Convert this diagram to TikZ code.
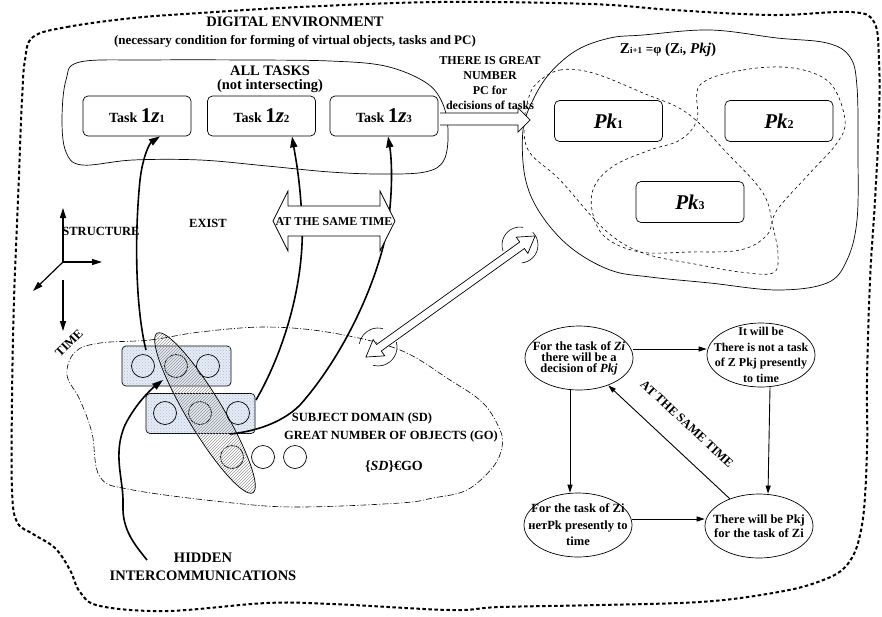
\documentclass[tikz,border=0pt]{standalone}
\usepackage{fontspec}
\setmainfont{Liberation Serif}
\usetikzlibrary{shapes.geometric,arrows.meta,patterns}

\newcommand{\fsz}[1]{\fontsize{#1}{#1}\selectfont}
\newcommand{\tasknum}[1]{{\fsz{21}1\textit{z}}{\fsz{11}#1}}
\newcommand{\pklab}[1]{{\fsz{21}\textit{Pk}}{\fsz{12}#1}}

\tikzset{
  every node/.style={font=\bfseries, inner sep=0pt},
  taskbox/.style={draw, rounded corners=5pt, minimum width=108pt, minimum height=40pt, line width=0.7pt, font=\bfseries\fsz{14}},
  pkbox/.style={draw, rounded corners=5pt, minimum width=108pt, minimum height=41pt, line width=0.7pt},
  stateell/.style={draw, ellipse, minimum width=108pt, minimum height=64pt, line width=0.7pt},
  statetxt/.style={align=center, font=\bfseries\fontsize{12.5}{14.5}\selectfont},
  blockbox/.style={draw, rounded corners=4pt, fill={rgb,255:red,230;green,236;blue,246}, minimum width=109pt, minimum height=40pt, line width=0.7pt,
    postaction={pattern=crosshatch dots, pattern color={rgb,255:red,175;green,190;blue,215}}},
  obj/.style={draw, circle, minimum size=23pt, line width=0.7pt},
  thickarr/.style={line width=1.6pt, -{Triangle[length=11pt,width=7pt]}},
  thinarr/.style={line width=0.9pt, -{Triangle[length=8pt,width=5pt]}},
  axarr/.style={line width=1.2pt, -{Triangle[length=10pt,width=6pt]}},
}

\begin{document}
\begin{tikzpicture}[x=1pt,y=-1pt]
\useasboundingbox (0,0) rectangle (882,616);

% digital environment
\draw[line width=2pt, dash pattern=on 3.5pt off 2.5pt] plot[smooth cycle, tension=0.6] coordinates {
  (33,37) (67,27) (133,18) (200,13) (300,7) (440,2) (590,4) (673,10) (773,15) (850,12)
  (874,22) (879,60) (879,120) (875,200) (870,280) (867,380) (867,450) (862,525) (847,565)
  (815,583) (767,594) (700,602) (600,605) (500,607) (450,610) (333,604) (267,603) (167,611)
  (100,606) (80,592) (70,570) (55,548) (33,534) (17,522) (12,490) (12,400) (14,300) (18,200)
  (22,100) (25,60)};
\node (dig) at (295,22) {\fsz{14.5}DIGITAL ENVIRONMENT};
\node (cond) at (295,41) {\fsz{13}(necessary condition for forming of virtual objects, tasks and PC)};

% all tasks
\draw[line width=0.7pt] plot[smooth cycle, tension=0.6] coordinates {
  (80,62) (150,60) (250,60) (330,61) (385,66) (425,82) (442,102) (448,130) (444,160) (425,172)
  (380,174) (330,172) (267,166) (200,160) (133,160) (82,165) (66,152) (62,120) (66,80)};
\node[align=center, font=\bfseries\fontsize{14.5}{14}\selectfont] (all) at (270,79) {ALL TASKS\\(not intersecting)};
\node[taskbox] (t1) at (137,116) {Task \tasknum{1}};
\node[taskbox] (t2) at (261.5,116) {Task \tasknum{2}};
\node[taskbox] (t3) at (384,116) {Task \tasknum{3}};

% decisions
\draw[line width=0.7pt] plot[smooth cycle, tension=0.6] coordinates {
  (610,38) (643,35) (710,30) (777,38) (827,43) (850,57) (857,87) (858,153) (857,220) (847,260)
  (827,283) (777,290) (710,283) (650,277) (610,270) (570,247) (540,213) (525,177) (523,130)
  (533,100) (550,73) (577,50)};
\draw[dashed, line width=0.6pt] plot[smooth cycle, tension=0.6] coordinates {
  (537,83) (560,70) (593,73) (643,93) (687,113) (727,153) (763,193) (773,227) (778,255) (773,273)
  (740,272) (700,265) (643,253) (605,230) (560,180) (530,153) (524,128) (528,100)};
\draw[dashed, line width=0.6pt] plot[smooth cycle, tension=0.6] coordinates {
  (700,85) (743,70) (793,68) (830,83) (845,120) (837,143) (810,173) (777,210) (767,235) (740,250)
  (690,252) (640,252) (605,237) (592,210) (595,185) (615,165) (650,150) (680,140) (697,120)};
\node (zf) at (668,50) {\fsz{15}Z{\fsz{9}i+1} {\fsz{13}=φ} (Z{\fsz{9}i}, \textit{Pk}\textit{j})};
\node[pkbox] (p1) at (608.5,121) {\pklab{1}};
\node[pkbox] (p2) at (779,121) {\pklab{2}};
\node[pkbox] (p3) at (690,202) {\pklab{3}};

% great number of PC
\draw[line width=0.7pt, fill=white] (440,113) -- (518,113) -- (518,108) -- (530,120) -- (518,132) -- (518,125) -- (440,125);
\node[align=center, font=\bfseries\fontsize{12}{15}\selectfont] (gr) at (490,83.5) {THERE IS GREAT\\NUMBER\\PC for\\decisions of tasks};

% axes
\coordinate (ax) at (63,262);
\coordinate (axu) at (63,208);
\coordinate (axr) at (102,262);
\coordinate (axl) at (33,291);
\coordinate (axd) at (63,280);
\coordinate (axt) at (63,331);
\draw[axarr] (ax) -- (axu);
\draw[axarr] (ax) -- (axr);
\draw[axarr] (ax) -- (axl);
\draw[axarr] (axd) -- (axt);
\node (str) at (101,231) {\fsz{12.5}STRUCTURE};
\node[rotate=45] (tm) at (69,343) {\fsz{12.5}TIME};
\node (ex) at (208,223) {\fsz{12.5}EXIST};

% subject domain
\draw[line width=0.6pt, dash pattern=on 6pt off 2pt on 1pt off 2pt] plot[smooth cycle, tension=0.6] coordinates {
  (100,343) (150,340) (200,332) (267,327) (333,333) (400,350) (450,380) (483,403) (500,430)
  (502,447) (493,467) (467,490) (433,498) (400,503) (300,507) (233,503) (133,490) (100,477)
  (92,433) (80,400) (67,375) (75,352)};
\node[blockbox] (b1) at (176.5,366) {};
\node[blockbox] (b2) at (200.5,413.5) {};
\foreach \nm/\px/\py in {o1/143/366, o2/176/366, o3/208/366, o4/165/413, o5/200/413, o6/238/413, o7/232/457, o8/263/457, o9/295/457}
  \node[obj] (\nm) at (\px,\py) {};
\node[draw, ellipse, rotate=-59, minimum width=186pt, minimum height=36pt, line width=0.7pt,
  pattern=north east lines, pattern color=gray!80] (sel) at (205,413) {};
\node (sd) at (362,418) {\fsz{12.5}SUBJECT DOMAIN (SD)};
\node (go) at (391,436) {\fsz{12.5}GREAT NUMBER OF OBJECTS (GO)};
\node (sdgo) at (394,467) {\fsz{14}\{\textit{SD}\}€GO};

% links to the tasks
\coordinate (s1) at (146,350);
\coordinate (s2) at (256,400);
\coordinate (s3) at (230,434);
\coordinate (s4) at (147,560);
\draw[thickarr] (s1) .. controls (136,310) and (134,240) .. (140,180) .. controls (143,155) and (150,143) .. ([xshift=23pt]t1.south);
\draw[thickarr] (s2) .. controls (285,350) and (305,280) .. (302,220) .. controls (300,180) and (296,160) .. ([xshift=30.5pt]t2.south);
\draw[thickarr] (s3) .. controls (250,432) and (280,425) .. (300,405) .. controls (340,360) and (375,290) .. (387,230) .. controls (393,195) and (392,160) .. ([xshift=4pt]t3.south);
\draw[thickarr] (s4) .. controls (135,545) and (122,530) .. (123,505) .. controls (124,480) and (112,455) .. (125,425) .. controls (135,405) and (150,390) .. (163,380);
\node[align=center, font=\bfseries\fontsize{14.5}{18}\selectfont] (hid) at (203,567) {HIDDEN\\INTERCOMMUNICATIONS};

% at the same time
\draw[line width=0.7pt, fill=white] (273,221) -- (288,191) -- (288,206) -- (380,206) -- (380,191) -- (395,221)
  -- (380,251) -- (380,236) -- (288,236) -- (288,251) -- cycle;
\node (same) at (334,222) {\fsz{12}AT THE SAME TIME};

% interaction
\begin{scope}[shift={(450.5,296.5)}, rotate=35.6]
  \draw[line width=0.7pt, fill=white] (-104,0) -- (-88,10) -- (-88,4) -- (88,4) -- (88,10) -- (104,0)
    -- (88,-10) -- (88,-4) -- (-88,-4) -- (-88,-10) -- cycle;
\end{scope}
\draw[line width=0.6pt] (520,245) ++(160:18) arc[start angle=160, end angle=280, radius=18];
\draw[line width=0.6pt] (520,245) ++(-45:18) arc[start angle=-45, end angle=85, radius=18];
\draw[line width=0.6pt] (378,347) ++(190:19) arc[start angle=190, end angle=285, radius=19];
\draw[line width=0.6pt] (378,347) ++(-15:19) arc[start angle=-15, end angle=105, radius=19];

% states
\node[stateell] (e1) at (579,358) {};
\node[stateell] (e2) at (761,355) {};
\node[stateell] (e3) at (578,525) {};
\node[stateell] (e4) at (759,526) {};
\node[statetxt, font=\bfseries\fontsize{12.5}{11}\selectfont] at (e1) {For the task of \textit{Zi}\\there will be a\\decision of \textit{Pkj}};
\node[statetxt, font=\bfseries\fontsize{12}{15.5}\selectfont] at (e2) {It will be\\There is not a task\\of Z Pkj presently\\to time};
\node[statetxt, font=\bfseries\fontsize{12.5}{16.5}\selectfont] at (e3) {For the task of Zi\\нетPk presently to\\time};
\node[statetxt] at (e4) {There will be Pkj\\for the task of Zi};
\draw[thinarr] ([yshift=9pt]e1.east) -- ([yshift=6pt]e2.west);
\draw[thinarr] ([xshift=-9pt]e1.south) -- ([xshift=-8pt]e3.north);
\draw[thinarr] ([xshift=9pt]e2.south) -- ([xshift=9pt]e4.north);
\draw[thinarr] ([yshift=6pt]e3.east) -- ([yshift=7pt]e4.west);
\draw[thinarr, {Triangle[length=8pt,width=5pt]}-] (e1) -- (e4);
\node[rotate=-43] (same2) at (687,424) {\fsz{12.5}AT THE SAME TIME};
\end{tikzpicture}
\end{document}
